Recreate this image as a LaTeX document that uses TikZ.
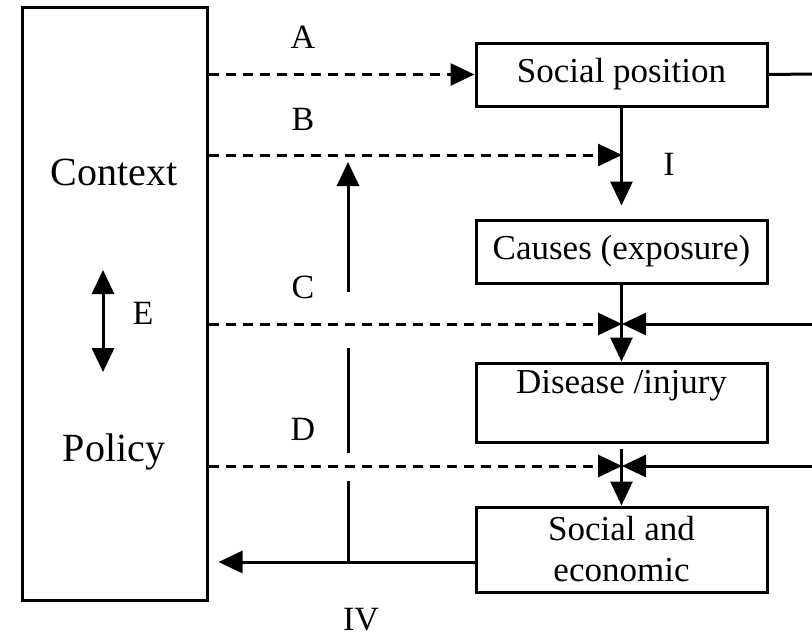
\documentclass[tikz,border=0pt]{standalone}
\usepackage{fontspec}
\setmainfont{Liberation Serif}
\usetikzlibrary{arrows.meta}
\begin{document}
\begin{tikzpicture}[x=1pt,y=-1pt,
  lw/.style={line width=3pt},
  box/.style={draw,lw,minimum width=291pt,inner sep=0pt,font=\fontsize{35}{41}\selectfont,align=center},
  side/.style={font=\fontsize{40}{46}\selectfont},
  lbl/.style={font=\fontsize{34}{40}\selectfont,inner sep=1pt},
  tip/.style={-{Triangle[length=24pt,width=22pt]}},
  dsh/.style={lw,dash pattern=on 10pt off 7pt},
]
\useasboundingbox (0,0) rectangle (812,637);
% boxes
\node[draw,lw,minimum width=185pt,minimum height=593pt] (ctx) at (114.5,303.5) {};
\node[side] (context) at (114,172) {Context};
\node[side] (policy) at (114,452) {Policy};
\node[box,minimum height=63pt] (sp) at (621.5,74.5) {Social position};
\node[box,minimum height=63pt] (cs) at (621.5,251.5) {Causes (exposure)};
\node[box,minimum height=79pt] (dis) at (621.5,402.5) {};
\node[font=\fontsize{35}{41}\selectfont] (distext) at (621.5,386) {Disease /injury};
\node[box,minimum height=85pt] (se) at (621.5,549.5) {Social and\\economic};
% junction coordinates
\coordinate (jB) at (622,155);
\coordinate (jC) at (622,324);
\coordinate (jD) at (622,466);
\coordinate (rA) at (812,74);
\coordinate (rC) at (812,324);
\coordinate (rD) at (812,466);
\coordinate (seL) at (476,562);
\coordinate (vB) at (348,562);
\coordinate (vD1) at (348,481);
\coordinate (vD2) at (348,453);
\coordinate (vC1) at (348,348);
\coordinate (vC2) at (348,292);
\coordinate (vTop) at (348,162);
\coordinate (eTop) at (103,270);
\coordinate (eBot) at (103,372);
% labels
\node[lbl] (la) at (303,37) {A};
\node[lbl] (lb) at (303,119) {B};
\node[lbl] (lc) at (303,287) {C};
\node[lbl] (ld) at (303,429) {D};
\node[lbl] (le) at (143,313) {E};
\node[lbl] (li) at (669,164) {I};
\node[lbl] (liv) at (361,620) {IV};
% dashed arrows from context
\draw[dsh,tip] (ctx.east |- sp.west) -- (sp.west);
\draw[dsh,tip] (ctx.east |- jB) -- (jB);
\draw[dsh,tip] (ctx.east |- jC) -- (jC);
\draw[dsh,tip] (ctx.east |- jD) -- (jD);
% main chain
\draw[lw,tip,shorten >=13pt] (sp.south) -- (cs.north);
\draw[lw,tip] (cs.south) -- (dis.north);
\draw[lw,tip,shorten <=5pt] (dis.south) -- (se.north);
% right side
\draw[lw] (sp.east) -- (rA);
\draw[lw,tip] (rC) -- (jC);
\draw[lw,tip] (rD) -- (jD);
% feedback IV
\draw[lw,tip,shorten >=10pt] (seL) -- (ctx.east |- seL);
\draw[lw] (vB) -- (vD1);
\draw[lw] (vD2) -- (vC1);
\draw[lw,tip] (vC2) -- (vTop);
% E double arrow
\draw[lw,{Triangle[length=24pt,width=22pt]}-{Triangle[length=24pt,width=22pt]}] (eTop) -- (eBot);
\end{tikzpicture}
\end{document}
